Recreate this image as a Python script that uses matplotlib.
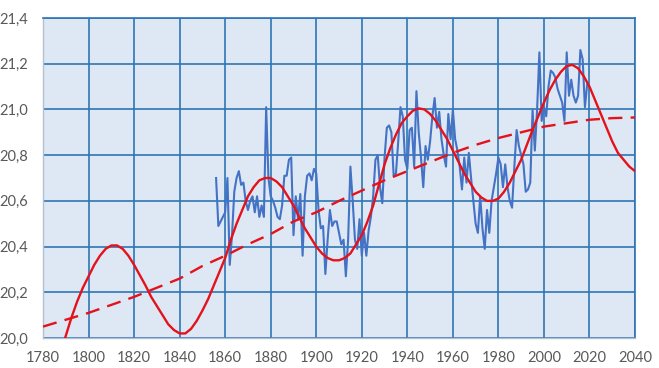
import matplotlib
matplotlib.use('Agg')
import matplotlib.pyplot as plt
from matplotlib.ticker import FuncFormatter, MultipleLocator

# annual measurements 1856-2019
years = list(range(1856, 2020))
temps = [
    20.70, 20.49, 20.51, 20.53, 20.55, 20.70, 20.32, 20.45, 20.64, 20.70,  # 1856-1865
    20.73, 20.67, 20.68, 20.60, 20.56, 20.60, 20.62, 20.55, 20.62, 20.53,  # 1866-1875
    20.58, 20.53, 21.01, 20.70, 20.62, 20.60, 20.57, 20.53, 20.52, 20.58,  # 1876-1885
    20.71, 20.71, 20.78, 20.79, 20.45, 20.62, 20.52, 20.63, 20.36, 20.62,  # 1886-1895
    20.71, 20.72, 20.69, 20.74, 20.72, 20.56, 20.48, 20.49, 20.28, 20.43,  # 1896-1905
    20.56, 20.49, 20.51, 20.51, 20.46, 20.41, 20.43, 20.27, 20.43, 20.75,  # 1906-1915
    20.60, 20.43, 20.39, 20.52, 20.36, 20.46, 20.36, 20.47, 20.53, 20.62,  # 1916-1925
    20.78, 20.80, 20.66, 20.59, 20.79, 20.92, 20.93, 20.90, 20.71, 20.72,  # 1926-1935
    20.86, 21.01, 20.97, 20.78, 20.74, 20.91, 20.92, 20.75, 21.08, 20.90,  # 1936-1945
    20.79, 20.66, 20.84, 20.78, 20.86, 20.97, 21.05, 20.92, 20.99, 20.87,  # 1946-1955
    20.80, 20.75, 20.98, 20.87, 21.00, 20.87, 20.82, 20.75, 20.65, 20.79,  # 1956-1965
    20.68, 20.81, 20.70, 20.60, 20.50, 20.46, 20.62, 20.48, 20.39, 20.56,  # 1966-1975
    20.46, 20.60, 20.66, 20.72, 20.79, 20.76, 20.66, 20.76, 20.66, 20.60,  # 1976-1985
    20.57, 20.75, 20.91, 20.84, 20.80, 20.76, 20.64, 20.65, 20.68, 21.00,  # 1986-1995
    20.82, 21.00, 21.25, 20.95, 21.01, 20.97, 21.10, 21.17, 21.16, 21.14,  # 1996-2005
    21.09, 21.06, 21.03, 20.95, 21.25, 21.06, 21.13, 21.06, 21.03, 21.06,  # 2006-2015
    21.26, 21.22, 21.01, 21.11,                                            # 2016-2019
]

# cyclic fit (solid red), read every 2.5 years from 1785 to 2040
cycle_years = [1785 + 2.5 * i for i in range(103)]
cycle_vals = [
    19.85, 19.93, 20.01, 20.09, 20.16, 20.22, 20.27, 20.32, 20.36, 20.39,    # 1785-1807.5
    20.405, 20.405, 20.39, 20.36, 20.32, 20.275, 20.23, 20.18, 20.14, 20.10,  # 1810-1832.5
    20.06, 20.035, 20.02, 20.02, 20.04, 20.075, 20.12, 20.17, 20.23, 20.29,   # 1835-1857.5
    20.35, 20.43, 20.50, 20.56, 20.62, 20.66, 20.69, 20.70, 20.70, 20.685,    # 1860-1882.5
    20.66, 20.62, 20.58, 20.53, 20.48, 20.44, 20.40, 20.37, 20.35, 20.34,     # 1885-1907.5
    20.34, 20.35, 20.37, 20.41, 20.45, 20.51, 20.58, 20.67, 20.76, 20.83,     # 1910-1932.5
    20.89, 20.94, 20.97, 20.995, 21.005, 21.00, 20.98, 20.95, 20.91, 20.87,   # 1935-1957.5
    20.82, 20.77, 20.72, 20.68, 20.64, 20.615, 20.60, 20.60, 20.61, 20.64,    # 1960-1982.5
    20.68, 20.73, 20.78, 20.845, 20.91, 20.97, 21.03, 21.085, 21.13, 21.165,  # 1985-2007.5
    21.19, 21.195, 21.18, 21.145, 21.10, 21.04, 20.98, 20.92, 20.86, 20.81,   # 2010-2032.5
    20.78, 20.75, 20.73,                                                      # 2035-2040
]

# long-term trend (dashed red), read every 10 years
trend_years = list(range(1780, 2041, 10))
trend_vals = [
    20.05, 20.08, 20.11, 20.145, 20.18, 20.22, 20.26, 20.315, 20.36, 20.41,
    20.455, 20.51, 20.55, 20.60, 20.645, 20.69, 20.73, 20.77, 20.81, 20.845,
    20.875, 20.90, 20.925, 20.94, 20.955, 20.962, 20.965,
]

grid_blue = '#2e75b6'
red = '#e3121b'

fig = plt.figure(figsize=(6.59, 3.68), dpi=100)
ax = fig.add_axes([0.0653, 0.0815, 0.8983, 0.8695])
ax.set_facecolor('#dee8f5')

ax.plot(years, temps, color='#4472c4', linewidth=1.5, zorder=3)
ax.plot(cycle_years, cycle_vals, color=red, linewidth=1.7, zorder=4)
ax.plot(trend_years, trend_vals, color=red, linewidth=1.7, dashes=(6, 3.5), zorder=4)

ax.set_xlim(1780, 2040)
ax.set_ylim(20.0, 21.4)
ax.xaxis.set_major_locator(MultipleLocator(20))
ax.yaxis.set_major_locator(MultipleLocator(0.2))
ax.yaxis.set_major_formatter(FuncFormatter(lambda v, p: f'{v:.1f}'.replace('.', ',')))
ax.grid(True, color=grid_blue, linewidth=1.2, zorder=1)
ax.set_axisbelow(True)
ax.tick_params(length=0, labelsize=10.5, labelcolor='#595959')
ax.tick_params(axis='x', pad=9)
ax.tick_params(axis='y', pad=11)
for lbl in ax.get_xticklabels() + ax.get_yticklabels():
    lbl.set_family('Lato')
for side in ['top', 'right']:
    ax.spines[side].set_color(grid_blue)
    ax.spines[side].set_linewidth(1.2)
for side in ['left', 'bottom']:
    ax.spines[side].set_color('#b4c0cc')
    ax.spines[side].set_linewidth(1.0)

plt.savefig('out.png', dpi=100)
